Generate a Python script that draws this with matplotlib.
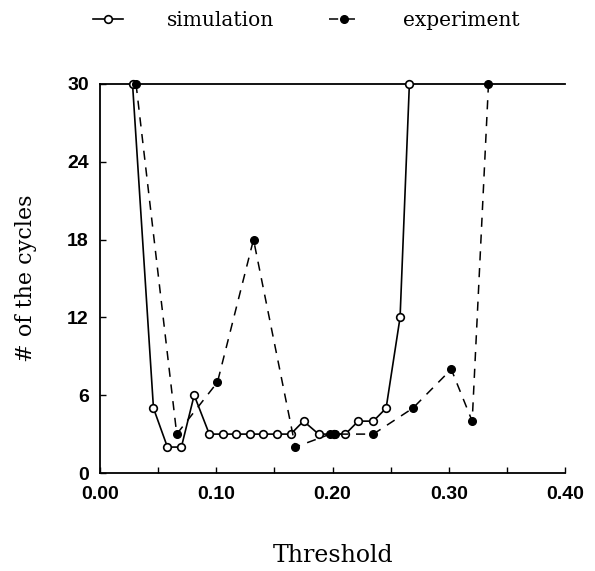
import matplotlib
matplotlib.use("Agg")
import matplotlib.pyplot as plt
from matplotlib.ticker import MultipleLocator

sim_x = [0.028, 0.046, 0.058, 0.070, 0.081, 0.094, 0.106, 0.117, 0.129, 0.140, 0.152, 0.164,
         0.175, 0.188, 0.201, 0.211, 0.222, 0.235, 0.246, 0.258, 0.266]
sim_y = [30, 5, 2, 2, 6, 3, 3, 3, 3, 3, 3, 3,
         4, 3, 3, 3, 4, 4, 5, 12, 30]

exp_x = [0.031, 0.066, 0.101, 0.132, 0.168, 0.198, 0.202, 0.235, 0.269, 0.302, 0.320, 0.334]
exp_y = [30, 3, 7, 18, 2, 3, 3, 3, 5, 8, 4, 30]

x_ticks = [0.00, 0.10, 0.20, 0.30, 0.40]
y_ticks = [0, 6, 12, 18, 24, 30]

fig = plt.figure(figsize=(5.95, 5.71), dpi=100)
ax = fig.add_axes([0.168, 0.1716, 0.782, 0.6814])

ax.plot(sim_x, sim_y, '-', color='black', lw=1.2, marker='o', markersize=5.5,
        markerfacecolor='white', markeredgecolor='black', markeredgewidth=1.2,
        label='simulation', clip_on=False, zorder=3)
ax.plot(exp_x, exp_y, '--', color='black', lw=1.1, dashes=(6, 5), marker='o', markersize=5.5,
        markerfacecolor='black', markeredgecolor='black',
        label='experiment', clip_on=False, zorder=3)

ax.set_xlim(0, 0.40)
ax.set_ylim(0, 30)
ax.set_xticks(x_ticks)
ax.set_xticklabels([f"{v:.2f}" for v in x_ticks])
ax.set_yticks(y_ticks)
ax.xaxis.set_minor_locator(MultipleLocator(0.05))
ax.tick_params(axis='both', which='both', direction='in', length=4, width=1, pad=8)
ax.tick_params(axis='x', which='major', pad=9)
for lab in ax.get_xticklabels() + ax.get_yticklabels():
    lab.set_fontfamily('Liberation Sans')
    lab.set_fontsize(14)
    lab.set_fontweight('bold')

ax.spines['right'].set_visible(False)
for s in ['left', 'bottom', 'top']:
    ax.spines[s].set_linewidth(1.3)

ax.set_xlabel('Threshold', fontfamily='DejaVu Serif', fontsize=17, labelpad=30)
ax.set_ylabel('# of the cycles', fontfamily='DejaVu Serif', fontsize=16, labelpad=22)

fig.legend(loc='upper left', bbox_to_anchor=(0.156, 0.980), ncol=2, frameon=False,
           prop={'family': 'DejaVu Serif', 'size': 14.5}, handlelength=1.5,
           columnspacing=2.7, handletextpad=2.2, borderpad=0, borderaxespad=0)

fig.savefig('out.png', dpi=100)
